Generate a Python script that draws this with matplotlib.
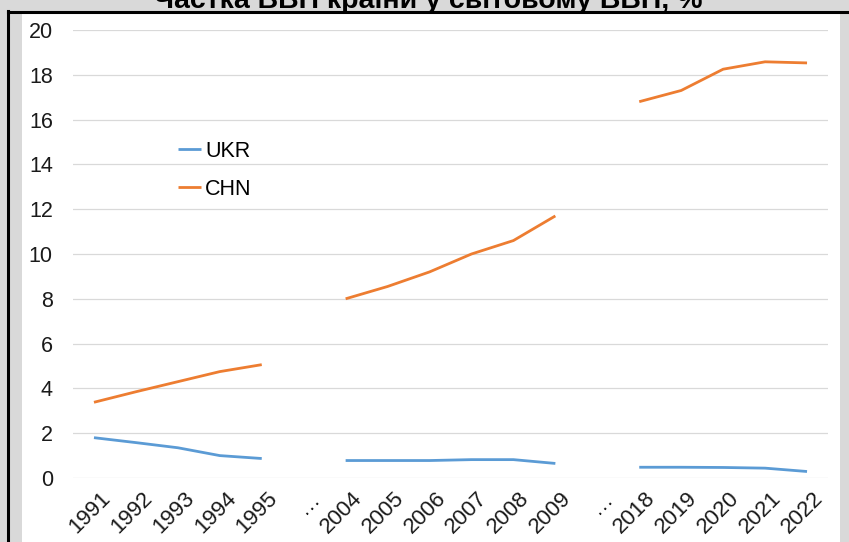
import numpy as np
import matplotlib.pyplot as plt
import matplotlib.transforms as mtransforms
from matplotlib.patches import Rectangle
from matplotlib.lines import Line2D

plt.rcParams['font.family'] = ['Liberation Sans', 'DejaVu Sans']

# categories, gaps marked with an ellipsis
years = ['1991', '1992', '1993', '1994', '1995', '…',
         '2004', '2005', '2006', '2007', '2008', '2009', '…',
         '2018', '2019', '2020', '2021', '2022']
nan = np.nan
ukr = [1.80, 1.58, 1.35, 1.00, 0.87, nan,
       0.78, 0.78, 0.78, 0.82, 0.82, 0.65, nan,
       0.48, 0.48, 0.47, 0.44, 0.29]
chn = [3.38, 3.85, 4.30, 4.75, 5.06, nan,
       8.00, 8.55, 9.20, 10.00, 10.60, 11.70, nan,
       16.80, 17.30, 18.25, 18.58, 18.53]

W, H = 849, 542
fig = plt.figure(figsize=(W / 100, H / 100), dpi=100)
fig.patch.set_facecolor('#d9d9d9')

# white panel + black frame edges
panel = Rectangle((22 / W, 0), (840 - 22) / W, (H - 12) / H,
                  transform=fig.transFigure, facecolor='white',
                  edgecolor='none', zorder=-10)
fig.add_artist(panel)
fig.add_artist(Line2D([8 / W, 8 / W], [0, 1 - 11 / H], transform=fig.transFigure,
                      color='black', lw=2.2))
fig.add_artist(Line2D([8 / W, 1], [1 - 11.5 / H, 1 - 11.5 / H], transform=fig.transFigure,
                      color='black', lw=2.2))

# title, cut off at the top like the original
fig.text(0.505, 1 - 8 / H, 'Частка ВВП країни у світовому ВВП, %',
         ha='center', va='baseline', fontsize=20.5, fontweight='bold', color='black')

ax = fig.add_axes([73 / W, (H - 478) / H, (828 - 73) / W, (478 - 30) / H])
ax.set_facecolor('none')

x = np.arange(len(years))
ax.plot(x, ukr, color='#5b9bd5', lw=2.0, label='UKR', solid_capstyle='butt')
ax.plot(x, chn, color='#ed7d31', lw=2.0, label='CHN', solid_capstyle='butt')

ax.set_xlim(-0.5, len(years) - 0.5)
ax.set_ylim(0, 20)
ax.set_yticks(np.arange(0, 21, 2))
ax.yaxis.grid(True, color='#d9d9d9', lw=0.9)
ax.set_axisbelow(True)
for s in ax.spines.values():
    s.set_visible(False)

ax.tick_params(axis='y', length=0, pad=14.5, labelsize=15.5, labelcolor='#1a1a1a')
ax.tick_params(axis='x', length=0, pad=12.5, labelsize=16, labelcolor='#1a1a1a')
ax.set_xticks(x)
ax.set_xticklabels(years)
offset = mtransforms.ScaledTranslation(13 / 100, 0, fig.dpi_scale_trans)
for lab in ax.get_xticklabels():
    lab.set_rotation(45)
    lab.set_ha('right')
    lab.set_va('center')
    lab.set_rotation_mode('anchor')
    lab.set_transform(lab.get_transform() + offset)

ax.legend(loc='upper left', bbox_to_anchor=(178 / W, 1 - 141 / H),
          bbox_transform=fig.transFigure, frameon=False, fontsize=15.5,
          handlelength=1.05, handletextpad=0.2, labelspacing=0.78, borderpad=0,
          borderaxespad=0)

fig.savefig('out.png', dpi=100, facecolor=fig.get_facecolor())
